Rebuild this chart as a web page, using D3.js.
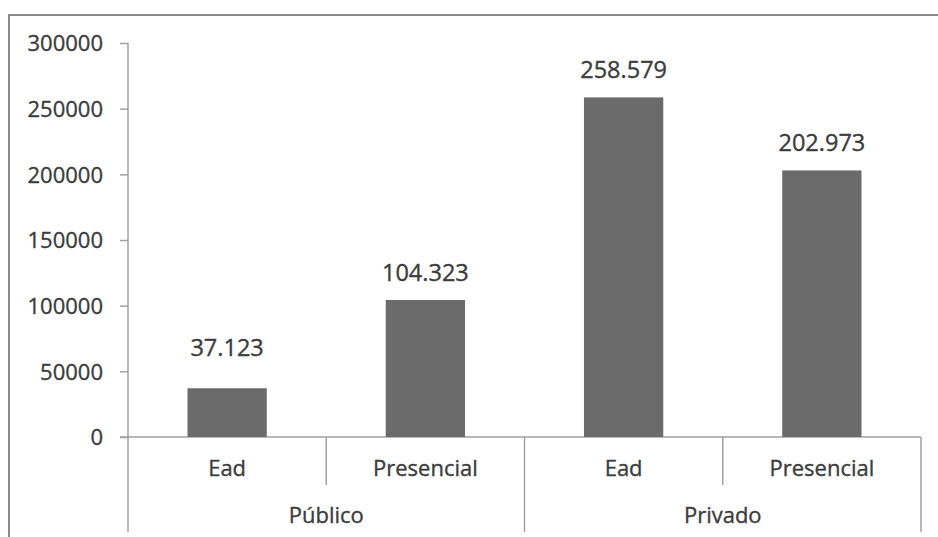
<!DOCTYPE html>
<html>
<head>
<meta charset="utf-8">
<script src="https://cdn.jsdelivr.net/npm/d3@7"></script>
<style>
  body { margin: 0; background: #fff; }
  text { font-family: "Open Sans", sans-serif; fill: #3c3c3c; stroke: #3c3c3c; stroke-width: 0.35px; }
</style>
</head>
<body>
<div id="chart"></div>
<script>
// Data
const groups = ["Público", "Privado"];
const categories = ["Ead", "Presencial", "Ead", "Presencial"];
const categoryGroup = [0, 0, 1, 1];
const values = [37123, 104323, 258579, 202973];
const valueLabels = ["37.123", "104.323", "258.579", "202.973"];
const yTicks = [0, 50000, 100000, 150000, 200000, 250000, 300000];

const svgWidth = 938;
const svgHeight = 537;

const plot = { left: 128, right: 921, top: 43, bottom: 437 };
const lineColor = "#a0a0a0";

const svg = d3.select("#chart")
  .append("svg")
  .attr("width", svgWidth)
  .attr("height", svgHeight);

// frame (only top and left visible)
svg.append("path")
  .attr("d", `M9,${svgHeight} V15 H${svgWidth}`)
  .attr("fill", "none")
  .attr("stroke", "#8a8a8a")
  .attr("stroke-width", 2);

const idx = d3.range(values.length);

const x = d3.scaleBand()
  .domain(idx)
  .range([plot.left, plot.right])
  .paddingInner(0.6)
  .paddingOuter(0.3);

const y = d3.scaleLinear()
  .domain([0, 300000])
  .range([plot.bottom, plot.top]);

// y axis
const yAxis = d3.axisLeft(y)
  .tickValues(yTicks)
  .tickFormat(d3.format("d"))
  .tickSize(8)
  .tickPadding(17);

const yAxisG = svg.append("g")
  .attr("transform", `translate(${plot.left},0)`)
  .call(yAxis);

yAxisG.select(".domain").remove();
yAxisG.selectAll(".tick line").attr("stroke", lineColor).attr("stroke-width", 1.5);
yAxisG.selectAll(".tick text")
  .attr("font-size", 22)
  .attr("dy", "0.35em")
  .style("font-family", "'Open Sans', sans-serif");

// y axis line runs down through the category rows
svg.append("line")
  .attr("x1", plot.left).attr("x2", plot.left)
  .attr("y1", plot.top).attr("y2", 532)
  .attr("stroke", lineColor).attr("stroke-width", 1.5);

// baseline
svg.append("line")
  .attr("x1", plot.left - 8).attr("x2", plot.right)
  .attr("y1", y(0)).attr("y2", y(0))
  .attr("stroke", lineColor).attr("stroke-width", 1.5);

// bars
svg.append("g")
  .selectAll("rect")
  .data(idx)
  .enter()
  .append("rect")
  .attr("x", i => x(i))
  .attr("y", i => y(values[i]))
  .attr("width", x.bandwidth())
  .attr("height", i => y(0) - y(values[i]))
  .attr("fill", "#6b6b6b");

// value labels (the short first bar has its label pushed a bit higher)
svg.append("g")
  .selectAll("text")
  .data(idx)
  .enter()
  .append("text")
  .attr("x", i => x(i) + x.bandwidth() / 2)
  .attr("y", i => y(values[i]) - (i === 0 ? 32 : 19))
  .attr("text-anchor", "middle")
  .attr("font-size", 23.5)
  .text(i => valueLabels[i]);

// category separators
const step = x.step();
const catLeft = i => x(i) - step * x.paddingInner() / 2;

idx.forEach(i => {
  if (i === 0) return;
  const isGroupEdge = categoryGroup[i] !== categoryGroup[i - 1];
  svg.append("line")
    .attr("x1", catLeft(i)).attr("x2", catLeft(i))
    .attr("y1", y(0)).attr("y2", isGroupEdge ? 532 : 485)
    .attr("stroke", lineColor).attr("stroke-width", 1.5);
});
svg.append("line")
  .attr("x1", plot.right).attr("x2", plot.right)
  .attr("y1", y(0)).attr("y2", 532)
  .attr("stroke", lineColor).attr("stroke-width", 1.5);

// category labels
svg.append("g")
  .selectAll("text")
  .data(idx)
  .enter()
  .append("text")
  .attr("x", i => catLeft(i) + step / 2)
  .attr("y", 476)
  .attr("text-anchor", "middle")
  .attr("font-size", 22)
  .text(i => categories[i]);

// group labels
svg.append("g")
  .selectAll("text")
  .data(groups)
  .enter()
  .append("text")
  .attr("x", (g, gi) => {
    const members = idx.filter(i => categoryGroup[i] === gi);
    const left = catLeft(members[0]);
    const right = catLeft(members[members.length - 1]) + step;
    return (left + right) / 2;
  })
  .attr("y", 523)
  .attr("text-anchor", "middle")
  .attr("font-size", 22)
  .text(d => d);
</script>
</body>
</html>
